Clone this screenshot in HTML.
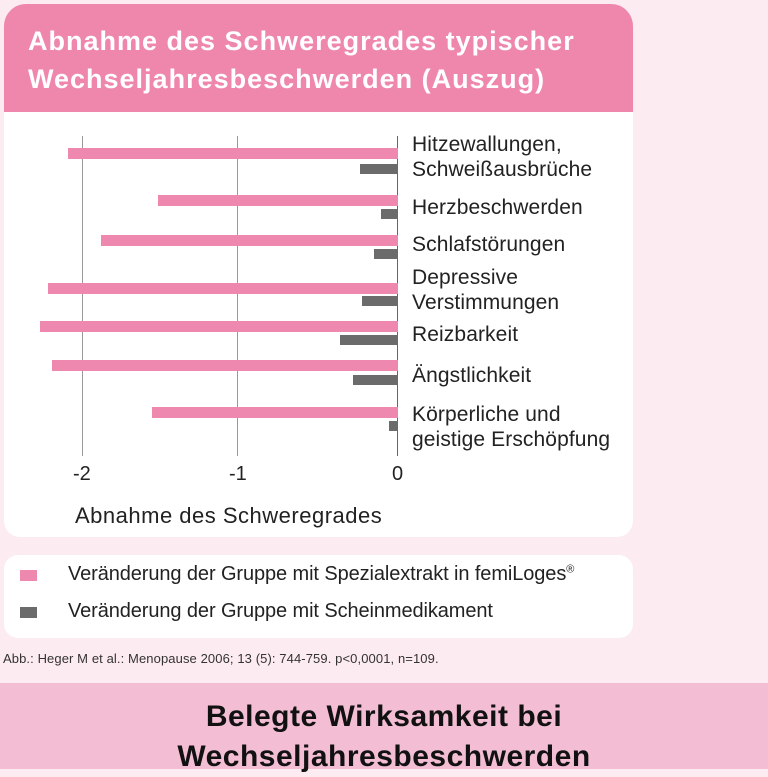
<!DOCTYPE html>
<html><head><meta charset="utf-8"><style>
body{margin:0;width:768px;height:769px;background:#fcebf1;position:relative;overflow:hidden;font-family:"Liberation Sans",sans-serif;}
div{position:absolute;}
.p{background:#ef88ae;height:11px;}
.g{background:#6b6b6b;height:10px;}
.l{left:412px;font-size:21px;color:#222;white-space:nowrap;line-height:25px;letter-spacing:0.1px}
.v{width:1px;background:#999;top:136px;height:320px;}
.t{font-size:20px;color:#222;top:463px;}
</style></head><body>
<div style="left:4px;top:4px;width:629px;height:108px;background:#ef87ac;border-radius:22px 22px 0 0"></div>
<div style="left:28px;top:22px;color:#fff;font-size:27px;font-weight:bold;line-height:38px;letter-spacing:1px;white-space:nowrap">Abnahme des Schweregrades typischer<br>Wechseljahresbeschwerden (Auszug)</div>
<div style="left:4px;top:112px;width:629px;height:425px;background:#fff;border-radius:0 0 16px 16px"></div>
<div class="v" style="left:82px"></div>
<div class="v" style="left:237px"></div>
<div class="v" style="left:397px;background:#666"></div>
<div class="p" style="left:68px;width:330px;top:148px"></div>
<div class="g" style="left:360px;width:38px;top:164px"></div>
<div class="p" style="left:158px;width:240px;top:195px"></div>
<div class="g" style="left:381px;width:17px;top:209px"></div>
<div class="p" style="left:101px;width:297px;top:235px"></div>
<div class="g" style="left:374px;width:24px;top:249px"></div>
<div class="p" style="left:48px;width:350px;top:283px"></div>
<div class="g" style="left:362px;width:36px;top:296px"></div>
<div class="p" style="left:40px;width:358px;top:321px"></div>
<div class="g" style="left:340px;width:58px;top:335px"></div>
<div class="p" style="left:52px;width:346px;top:360px"></div>
<div class="g" style="left:353px;width:45px;top:375px"></div>
<div class="p" style="left:152px;width:246px;top:407px"></div>
<div class="g" style="left:389px;width:9px;top:421px"></div>
<div class="l" style="top:132px">Hitzewallungen,<br>Schweißausbrüche</div>
<div class="l" style="top:195px">Herzbeschwerden</div>
<div class="l" style="top:232px">Schlafstörungen</div>
<div class="l" style="top:265px">Depressive<br>Verstimmungen</div>
<div class="l" style="top:322px">Reizbarkeit</div>
<div class="l" style="top:363px">Ängstlichkeit</div>
<div class="l" style="top:402px">Körperliche und<br>geistige Erschöpfung</div>
<div class="t" style="left:73px">-2</div>
<div class="t" style="left:229px">-1</div>
<div class="t" style="left:392px">0</div>
<div style="left:75px;top:503px;font-size:22px;color:#222;letter-spacing:0.5px">Abnahme des Schweregrades</div>
<div style="left:4px;top:555px;width:629px;height:83px;background:#fff;border-radius:14px"></div>
<div style="left:20px;top:570px;width:17px;height:11px;background:#ef88ae"></div>
<div style="left:20px;top:607px;width:17px;height:11px;background:#6b6b6b"></div>
<div style="left:68px;top:563px;font-size:20px;color:#222;letter-spacing:-0.1px;white-space:nowrap">Veränderung der Gruppe mit Spezialextrakt in femiLoges<sup style="font-size:11px">®</sup></div>
<div style="left:68px;top:600px;font-size:20px;color:#222;letter-spacing:-0.1px">Veränderung der Gruppe mit Scheinmedikament</div>
<div style="left:3px;top:651px;font-size:13px;color:#333;letter-spacing:0.1px;white-space:nowrap">Abb.: Heger M et al.: Menopause 2006; 13 (5): 744-759. p&lt;0,0001, n=109.</div>
<div style="left:0;top:683px;width:768px;height:86px;background:#f3bdd3"></div>
<div style="left:0;top:697px;width:768px;text-align:center;font-size:30px;font-weight:bold;color:#111;line-height:40px;letter-spacing:0.5px">Belegte Wirksamkeit bei<br>Wechseljahresbeschwerden</div>
</body></html>
